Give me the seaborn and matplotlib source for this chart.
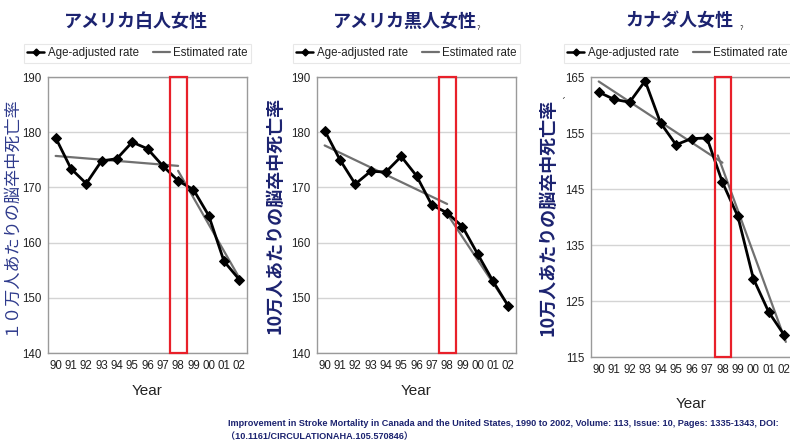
import matplotlib
matplotlib.use("Agg")
import matplotlib.pyplot as plt
import seaborn as sns
from matplotlib.lines import Line2D
from matplotlib.patches import Rectangle

sns.set_theme(style="whitegrid")
plt.rcParams["font.family"] = ["Noto Sans CJK JP", "DejaVu Sans"]

LATIN = "Liberation Sans"

years = ["90", "91", "92", "93", "94", "95", "96", "97", "98", "99", "00", "01", "02"]

titles = ["アメリカ白人女性", "アメリカ黒人女性", "カナダ人女性"]
ylabels = ["１０万人あたりの脳卒中死亡率", "10万人あたりの脳卒中死亡率", "10万人あたりの脳卒中死亡率"]

white_rate = [179.0, 173.4, 170.7, 174.8, 175.2, 178.2, 177.0, 173.9, 171.2, 169.6, 164.9, 156.6, 153.3]
black_rate = [180.3, 175.0, 170.6, 172.9, 172.8, 175.6, 172.1, 166.8, 165.4, 162.9, 157.9, 153.0, 148.5]
canada_rate = [162.3, 161.0, 160.5, 164.3, 156.8, 152.9, 154.0, 154.1, 146.2, 140.1, 129.0, 123.0, 118.9]

# estimated (joinpoint) segments: x positions are year indexes
white_est1_x, white_est1_y = [0, 8], [175.7, 173.9]
white_est2_x, white_est2_y = [8, 12], [173.0, 153.6]
black_est1_x, black_est1_y = [0, 8], [177.6, 167.0]
black_est2_x, black_est2_y = [8, 12], [165.2, 148.5]
canada_est1_x, canada_est1_y = [0, 8], [164.2, 149.7]
canada_est2_x, canada_est2_y = [7.7, 12.1], [151.0, 117.7]

ylims = [(140, 190), (140, 190), (115, 165)]
yticks = [[140, 150, 160, 170, 180, 190], [140, 150, 160, 170, 180, 190],
          [115, 125, 135, 145, 155, 165]]

rates = [white_rate, black_rate, canada_rate]
ests = [
    [(white_est1_x, white_est1_y), (white_est2_x, white_est2_y)],
    [(black_est1_x, black_est1_y), (black_est2_x, black_est2_y)],
    [(canada_est1_x, canada_est1_y), (canada_est2_x, canada_est2_y)],
]

W, H = 790, 448
fig = plt.figure(figsize=(W / 100, H / 100), dpi=100)
boxes = [(48, 77, 247, 353), (317, 77, 516, 353), (591, 77, 792, 357)]

NAVY = "#1c2370"
x_idx = list(range(len(years)))

for i, (l, t, r, b) in enumerate(boxes):
    ax = fig.add_axes([l / W, 1 - b / H, (r - l) / W, (b - t) / H])
    ax.set_facecolor("white")
    for (ex, ey) in ests[i]:
        sns.lineplot(x=ex, y=ey, ax=ax, color="#707070", lw=1.6, zorder=3)
    sns.lineplot(x=x_idx, y=rates[i], ax=ax, color="black", lw=2.0, marker="D",
                 markersize=5, markeredgecolor="black", zorder=4)
    ax.set_xlim(-0.5, 12.5)
    ax.set_ylim(*ylims[i])
    ax.set_yticks(yticks[i])
    ax.set_xticks(x_idx)
    ax.set_xticklabels(years)
    ax.grid(axis="x", visible=False)
    ax.grid(axis="y", color="#d4d4d4", lw=1.0)
    for s in ax.spines.values():
        s.set_color("#9a9a9a")
        s.set_linewidth(1.0)
    ax.tick_params(axis="both", length=0, pad=5, labelsize=8.3, colors="#222222")
    for lab in ax.get_xticklabels() + ax.get_yticklabels():
        lab.set_family(LATIN)
    ax.add_patch(Rectangle((7.5, ylims[i][0]), 1.05, ylims[i][1] - ylims[i][0],
                           fill=False, edgecolor="#e8202a", lw=1.6, zorder=5,
                           clip_on=False))

    ax.set_xlabel("Year", fontsize=11, family=LATIN, color="#222222",
                  labelpad=9 if i < 2 else 15)
    if i == 0:
        ax.set_ylabel(ylabels[i], fontsize=12.3, color="#2e3a8c", fontweight="normal")
        ax.yaxis.set_label_coords(-0.15, 0.5)
    else:
        ax.set_ylabel(ylabels[i], fontsize=13, color=NAVY, fontweight="bold")
        ax.yaxis.set_label_coords(-0.165, 0.5)

    ax.text(0.44, 1.2, titles[i], transform=ax.transAxes, ha="center", va="center",
            fontsize=13, fontweight="bold", color=NAVY)
    if i > 0:
        ax.text(0.81 if i == 1 else 0.745, 1.165, "ˀ", transform=ax.transAxes,
                ha="center", va="center", fontsize=7, color="#333333")
    if i == 2:
        ax.text(-0.14, 0.94, "ˏ", transform=ax.transAxes, ha="center", va="center",
                fontsize=7, color="#333333")

    handles = [
        Line2D([], [], color="black", lw=1.8, marker="D", markersize=3.5),
        Line2D([], [], color="#707070", lw=1.6),
    ]
    leg = ax.legend(handles, ["Age-adjusted rate", "Estimated rate"], ncol=2,
                    loc="lower center", bbox_to_anchor=(0.43 if i == 2 else 0.45, 1.03),
                    frameon=True, fontsize=8.3, handlelength=1.5, handletextpad=0.3,
                    columnspacing=1.2, borderpad=0.3, fancybox=False)
    leg.get_frame().set_edgecolor("#e2e2e2")
    leg.get_frame().set_linewidth(0.8)
    for txt in leg.get_texts():
        txt.set_family(LATIN)
        txt.set_color("#222222")

fig.text(228 / W, 1 - 423 / H,
         "Improvement in Stroke Mortality in Canada and the United States, 1990 to 2002, "
         "Volume: 113, Issue: 10, Pages: 1335-1343, DOI:",
         fontsize=6.55, fontweight="bold", color=NAVY, family=LATIN, va="center")
fig.text(226 / W, 1 - 437 / H, "（10.1161/CIRCULATIONAHA.105.570846）",
         fontsize=6.55, fontweight="bold", color=NAVY, family=[LATIN, "Noto Sans CJK JP"],
         va="center")

fig.savefig("out.png", dpi=100, facecolor="white")
